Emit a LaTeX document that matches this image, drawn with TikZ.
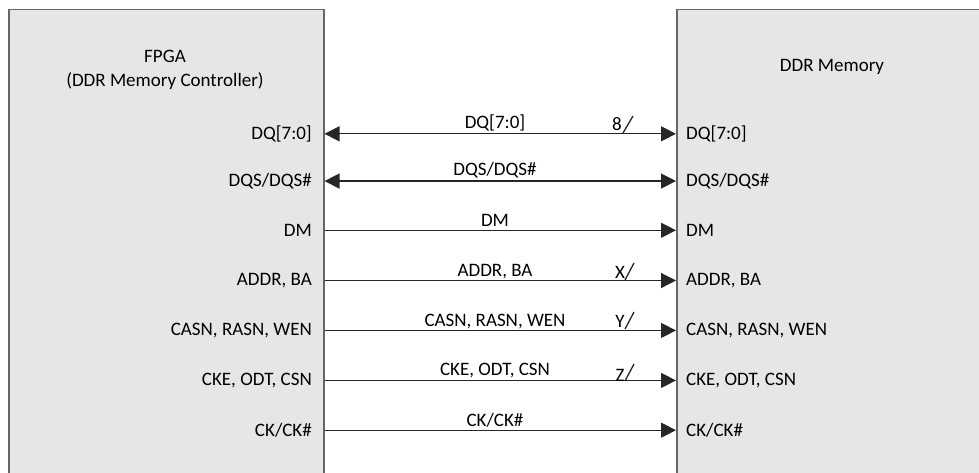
\documentclass[tikz,border=0pt]{standalone}
\usepackage{fontspec}
\setmainfont{Carlito}
\usetikzlibrary{arrows.meta, positioning}
\definecolor{boxFill}{HTML}{E6E6E8}
\definecolor{boxLine}{HTML}{666666}
\definecolor{wireDark}{HTML}{262626}

\begin{document}
\begin{tikzpicture}[x=1pt, y=-1pt,
    blk/.style={draw=boxLine, line width=1.5pt, fill=boxFill, minimum width=315pt,
      minimum height=500pt, inner sep=0pt, anchor=north west},
    txt/.style={font=\fontsize{19}{24}\selectfont, inner sep=0pt},
    pinl/.style={txt, anchor=mid east},
    pinr/.style={txt, anchor=mid west},
    bus/.style={txt, anchor=base},
    sig/.style={line width=1.2pt, draw=wireDark, -{Triangle[length=15pt, width=15pt]}},
    bidir/.style={sig, {Triangle[length=15pt, width=15pt]}-{Triangle[length=15pt, width=15pt]}},
    slash/.style={line width=1.3pt, draw=wireDark}]
    \clip (0, 0) rectangle (979, 473);

    % Bloques
    \node[blk] (fpga) at (8, 9) {};
    \node[blk] (ddr) at (676, 9) {};
    \node[txt, align=center] (fpga-title) at (165, 70) {FPGA\\(DDR Memory Controller)};
    \node[txt] (ddr-title) at (832, 67) {DDR Memory};

    % DQ
    \node[pinl] (f-dq) at (312, 137) {DQ[7:0]};
    \node[pinr] (m-dq) at (686, 137) {DQ[7:0]};
    \draw[bidir] (fpga.east |- f-dq) -- (ddr.west |- m-dq);
    \node[bus] (b-dq) at (495, 129) {DQ[7:0]};
    \node[bus] (w-dq) at (617, 131) {8};
    \draw[slash] (623, 133) -- (633, 116);

    % DQS
    \node[pinl] (f-dqs) at (312, 184) {DQS/DQS\#};
    \node[pinr] (m-dqs) at (686, 184) {DQS/DQS\#};
    \draw[bidir] (fpga.east |- f-dqs) -- (ddr.west |- m-dqs);
    \node[bus] (b-dqs) at (495, 176) {DQS/DQS\#};

    % DM
    \node[pinl] (f-dm) at (312, 234) {DM};
    \node[pinr] (m-dm) at (686, 234) {DM};
    \draw[sig] (fpga.east |- f-dm) -- (ddr.west |- m-dm);
    \node[bus] (b-dm) at (495, 226) {DM};

    % ADDR, BA
    \node[pinl] (f-addr) at (312, 283) {ADDR, BA};
    \node[pinr] (m-addr) at (686, 283) {ADDR, BA};
    \draw[sig] (fpga.east |- f-addr) -- (ddr.west |- m-addr);
    \node[bus] (b-addr) at (495, 276) {ADDR, BA};
    \node[bus] (w-addr) at (620, 278) {X};
    \draw[slash] (625, 280) -- (634, 263);

    % CASN, RASN, WEN
    \node[pinl] (f-cmd) at (312, 333) {CASN, RASN, WEN};
    \node[pinr] (m-cmd) at (686, 333) {CASN, RASN, WEN};
    \draw[sig] (fpga.east |- f-cmd) -- (ddr.west |- m-cmd);
    \node[bus] (b-cmd) at (495, 326) {CASN, RASN, WEN};
    \node[bus] (w-cmd) at (620, 327) {Y};
    \draw[slash] (625, 329) -- (634, 312);

    % CKE, ODT, CSN
    \node[pinl] (f-ctl) at (312, 383) {CKE, ODT, CSN};
    \node[pinr] (m-ctl) at (686, 383) {CKE, ODT, CSN};
    \draw[sig] (fpga.east |- f-ctl) -- (ddr.west |- m-ctl);
    \node[bus] (b-ctl) at (495, 375) {CKE, ODT, CSN};
    \node[bus] (w-ctl) at (620, 381) {Z};
    \draw[slash] (625, 381) -- (634, 364);

    % CK/CK#
    \node[pinl] (f-ck) at (312, 434) {CK/CK\#};
    \node[pinr] (m-ck) at (686, 434) {CK/CK\#};
    \draw[sig] (fpga.east |- f-ck) -- (ddr.west |- m-ck);
    \node[bus] (b-ck) at (495, 426) {CK/CK\#};
  \end{tikzpicture}
\end{document}
